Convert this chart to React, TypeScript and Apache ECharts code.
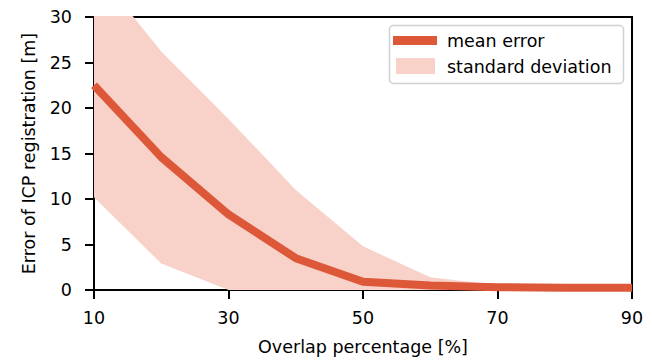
import React, { useEffect, useRef } from "react";
import * as echarts from "echarts";

const overlap = ["10", "20", "30", "40", "50", "60", "70", "80", "90"];
const meanError = [22.5, 14.6, 8.3, 3.5, 0.9, 0.5, 0.3, 0.25, 0.25];
const stdUpper = [35.4, 26.2, 18.8, 11.0, 4.8, 1.4, 0.55, 0.3, 0.3];
const stdLower = [10.2, 2.9, 0, 0, 0, 0, 0, 0, 0];
const yTicks = { min: 0, max: 30, interval: 5 };

const LINE = "#dc5839";
const BAND = "#f8d2c8";
const FONT = "DejaVu Sans";
const FS = 17.5;

export default function App() {
  const ref = useRef<HTMLDivElement>(null);
  useEffect(() => {
    document.body.style.margin = "0";
    const chart = echarts.init(ref.current!, null, { renderer: "svg" });
    const bandDiff = stdUpper.map((u, i) => u - stdLower[i]);
    chart.setOption({
      animation: false,
      grid: {
        left: 94,
        right: 20,
        top: 17,
        bottom: 70,
        show: true,
        borderColor: "#000",
        borderWidth: 2,
        backgroundColor: "transparent",
      },
      xAxis: {
        type: "category",
        data: overlap,
        boundaryGap: false,
        name: "Overlap percentage [%]",
        nameLocation: "middle",
        nameGap: 48,
        nameTextStyle: { fontFamily: FONT, fontSize: FS, color: "#000" },
        axisLine: { lineStyle: { color: "#000", width: 2 } },
        axisTick: { show: true, length: 9, interval: 1, lineStyle: { color: "#000", width: 2 } },
        axisLabel: { interval: 1, margin: 19, fontFamily: FONT, fontSize: FS, color: "#000" },
        splitLine: { show: false },
      },
      yAxis: {
        type: "value",
        min: yTicks.min,
        max: yTicks.max,
        interval: yTicks.interval,
        name: "Error of ICP registration [m]",
        nameLocation: "middle",
        nameGap: 56,
        nameTextStyle: { fontFamily: FONT, fontSize: FS, color: "#000" },
        axisLine: { show: true, lineStyle: { color: "#000", width: 2 } },
        axisTick: { show: true, length: 9, lineStyle: { color: "#000", width: 2 } },
        axisLabel: { margin: 22, fontFamily: FONT, fontSize: FS, color: "#000" },
        splitLine: { show: false },
      },
      series: [
        {
          name: "lower",
          type: "line",
          data: stdLower,
          stack: "band",
          symbol: "none",
          lineStyle: { opacity: 0 },
          silent: true,
        },
        {
          name: "standard deviation",
          type: "line",
          data: bandDiff,
          stack: "band",
          symbol: "none",
          lineStyle: { opacity: 0 },
          areaStyle: { color: BAND, opacity: 1 },
          silent: true,
        },
        {
          name: "mean error",
          type: "line",
          data: meanError,
          symbol: "none",
          lineStyle: { color: LINE, width: 8 },
          z: 5,
        },
      ],
      graphic: [
        {
          type: "rect",
          shape: { x: 389.5, y: 25.5, width: 234, height: 58, r: 4 },
          style: { fill: "rgba(255,255,255,0.85)", stroke: "#d0d0d0", lineWidth: 1.5 },
          z: 100,
        },
        {
          type: "rect",
          shape: { x: 393, y: 36, width: 44, height: 9 },
          style: { fill: LINE },
          z: 101,
        },
        {
          type: "rect",
          shape: { x: 396, y: 58, width: 39, height: 16 },
          style: { fill: BAND },
          z: 101,
        },
        {
          type: "text",
          x: 447,
          y: 41,
          style: { text: "mean error", fontFamily: FONT, fontSize: FS, fill: "#000", verticalAlign: "middle" },
          z: 101,
        },
        {
          type: "text",
          x: 447,
          y: 67,
          style: { text: "standard deviation", fontFamily: FONT, fontSize: FS, fill: "#000", verticalAlign: "middle" },
          z: 101,
        },
      ],
    });
    return () => chart.dispose();
  }, []);
  return <div ref={ref} style={{ width: 652, height: 361 }} />;
}
